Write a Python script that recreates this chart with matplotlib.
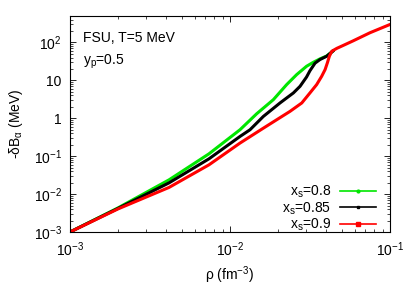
import matplotlib as mpl
mpl.use('Agg')
import matplotlib.pyplot as plt
from matplotlib.lines import Line2D

plt.rcParams['font.family'] = ['Liberation Sans', 'DejaVu Sans']
plt.rcParams['mathtext.fontset'] = 'custom'
plt.rcParams['mathtext.rm'] = 'Liberation Sans'
plt.rcParams['mathtext.it'] = 'Liberation Sans:italic'
plt.rcParams['mathtext.default'] = 'regular'
plt.rcParams['font.size'] = 10

# values: density rho (fm^-3) and -dB_alpha (MeV)
rho_08 = [1.0e-3, 1.995e-3, 4.16e-3, 7.39e-3, 1.155e-2, 1.469e-2, 1.866e-2,
          2.26e-2, 2.61e-2, 3.01e-2, 3.32e-2, 3.65e-2, 4.02e-2, 4.44e-2]
dB_08 = [1.0e-3, 4.32e-3, 0.0238, 0.1156, 0.499, 1.32, 3.10,
         7.74, 14.2, 23.6, 30.1, 37.0, 44.0, 61.4]

rho_085 = [1.0e-3, 1.995e-3, 4.16e-3, 7.39e-3, 1.155e-2, 1.334e-2, 1.616e-2,
           2.054e-2, 2.49e-2, 2.74e-2, 3.01e-2, 3.16e-2, 3.40e-2, 3.65e-2,
           4.02e-2, 4.44e-2]
dB_085 = [1.0e-3, 4.19e-3, 0.0198, 0.0853, 0.332, 0.499, 1.12,
          2.54, 4.67, 6.98, 12.3, 18.0, 28.5, 35.5,
          43.4, 61.4]

rho_09 = [1.0e-3, 1.995e-3, 4.16e-3, 7.39e-3, 1.155e-2, 1.585e-2, 1.96e-2,
          2.37e-2, 2.81e-2, 3.16e-2, 3.48e-2, 3.74e-2, 3.93e-2, 4.06e-2,
          4.18e-2, 4.33e-2, 4.65e-2, 5.08e-2, 5.87e-2, 7.50e-2, 0.1]
dB_09 = [1.0e-3, 4.06e-3, 0.0150, 0.0592, 0.222, 0.521, 0.918,
         1.52, 2.54, 4.67, 7.74, 12.8, 19.3, 29.0,
         43.4, 58.9, 70.0, 83.0, 110.0, 181.0, 299.0]

series = [
    (rho_08, dB_08, 'x$_{s}$=0.8', '#00e600', 'o', 2.0),
    (rho_085, dB_085, 'x$_{s}$=0.85', 'black', 's', 2.0),
    (rho_09, dB_09, 'x$_{s}$=0.9', '#ff0000', 's', 2.6),
]

xticks = [1e-3, 1e-2, 1e-1]
xticklabels = ['10$^{-3}$', '10$^{-2}$', '10$^{-1}$']
yticks = [1e-3, 1e-2, 1e-1, 1, 10, 100]
yticklabels = ['10$^{-3}$', '10$^{-2}$', '10$^{-1}$', '1', '10', '10$^{2}$']

fig = plt.figure(figsize=(4.15, 2.91), dpi=100)
ax = fig.add_axes([70/415, 1 - 232/291, 320/415, 216/291])

handles = []
for x, y, label, color, marker, ms in series:
    ax.plot(x, y, color=color, lw=2.2, solid_joinstyle='round',
            solid_capstyle='round')
    handles.append(Line2D([], [], color=color, lw=1.2, marker=marker,
                          markersize=ms, label=label))

ax.set_xscale('log')
ax.set_yscale('log')
ax.set_xlim(1e-3, 1e-1)
ax.set_ylim(1e-3, 500)
ax.set_xticks(xticks)
ax.set_xticklabels(xticklabels)
ax.set_yticks(yticks)
ax.set_yticklabels(yticklabels)
ax.tick_params(which='both', direction='in', top=True, right=True)
ax.tick_params(which='major', length=4, width=0.6, pad=6)
ax.tick_params(which='minor', length=2, width=0.5)
for s in ax.spines.values():
    s.set_linewidth(0.8)

ax.set_xlabel('ρ (fm$^{-3}$)', labelpad=4)
ax.set_ylabel('-δB$_{α}$ (MeV)', labelpad=6)

ax.text(0.04, 0.93, 'FSU, T=5 MeV', transform=ax.transAxes, ha='left', va='top')
ax.text(0.04, 0.83, 'y$_{p}$=0.5', transform=ax.transAxes, ha='left', va='top')

ax.legend(handles=handles, loc='lower right', markerfirst=False, frameon=False,
          handlelength=2.6, handletextpad=0.65, labelspacing=0.0,
          borderaxespad=0.0, bbox_to_anchor=(0.975, -0.03))

fig.savefig('out.png', dpi=100)
